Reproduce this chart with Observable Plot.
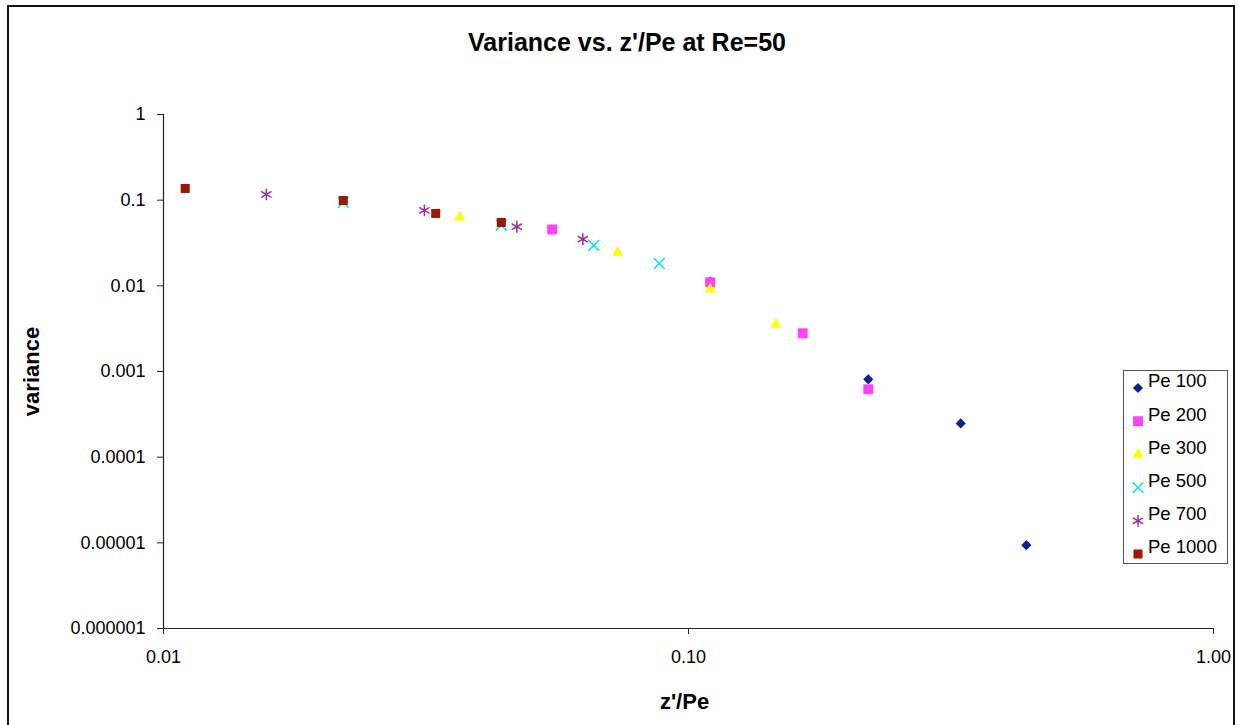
<!DOCTYPE html>
<html><head><meta charset="utf-8">
<script src="https://cdn.jsdelivr.net/npm/d3@7"></script>
<script src="https://cdn.jsdelivr.net/npm/@observablehq/plot@0.6"></script>
<style>
html,body{margin:0;padding:0;background:#fff;overflow:hidden;}
#wrap{position:relative;width:1238px;height:725px;font-family:"Liberation Sans",Arial,sans-serif;overflow:hidden;}
#frame{position:absolute;left:7px;top:5px;width:1228px;height:800px;border:2px solid #111;box-sizing:border-box;}
#title{position:absolute;left:8px;width:1238px;top:28px;text-align:center;font-weight:bold;font-size:25px;color:#000;}
#chart{position:absolute;left:0;top:0;}
#legend{position:absolute;left:1123px;top:370px;}
</style></head>
<body>
<div id="wrap">
  <div id="frame"></div>
  <div id="chart"></div>
  <div id="title">Variance vs. z'/Pe at Re=50</div>
  <div id="legend"></div>
</div>
<script>
// ---- data ----
const seriesNames = ["Pe 100", "Pe 200", "Pe 300", "Pe 500", "Pe 700", "Pe 1000"];
const pe100X = [0.11, 0.22, 0.33, 0.44];
const pe100Y = [0.0112, 0.00081, 0.000248, 0.0000094];
const pe200X = [0.055, 0.11, 0.165, 0.22];
const pe200Y = [0.0455, 0.011, 0.00279, 0.00062];
const pe300X = [0.0367, 0.0733, 0.11, 0.1467];
const pe300Y = [0.063, 0.0245, 0.0091, 0.00355];
const pe500X = [0.022, 0.044, 0.066, 0.088];
const pe500Y = [0.094, 0.051, 0.0296, 0.0182];
const pe700X = [0.0157, 0.0314, 0.0471, 0.0629];
const pe700Y = [0.117, 0.076, 0.049, 0.035];
const pe1000X = [0.011, 0.022, 0.033, 0.044];
const pe1000Y = [0.137, 0.099, 0.070, 0.055];

const yTicks = [1, 0.1, 0.01, 0.001, 0.0001, 0.00001, 0.000001];
const yTickLabels = ["1", "0.1", "0.01", "0.001", "0.0001", "0.00001", "0.000001"];
const xTicks = [0.01, 0.1, 1];
const xTickLabels = ["0.01", "0.10", "1.00"];

// ---- styles ----
const seriesStyle = [
  {symbol: "diamond2", fill: "#0f208c", r: 4.6},
  {symbol: "square", fill: "#ff40ff", r: 5.6},
  {symbol: "triangle", fill: "#ffff00", r: 4.2},
  {symbol: "times", stroke: "#00e8f0", r: 5},
  {symbol: "asterisk", stroke: "#993399", r: 5.6},
  {symbol: "square", fill: "#9c1800", r: 5.1}
];

const allX = [pe100X, pe200X, pe300X, pe500X, pe700X, pe1000X];
const allY = [pe100Y, pe200Y, pe300Y, pe500Y, pe700Y, pe1000Y];
const table = seriesNames.map((name, s) => allX[s].map((x, i) => ({series: name, x, y: allY[s][i]})));

const yLab = new Map(yTicks.map((t, i) => [t, yTickLabels[i]]));
const xLab = new Map(xTicks.map((t, i) => [t, xTickLabels[i]]));

const dotMarks = table.map((rows, s) => {
  const st = seriesStyle[s];
  const o = {x: "x", y: "y", symbol: st.symbol, r: st.r};
  if (st.fill) { o.fill = st.fill; o.stroke = "none"; }
  else { o.stroke = st.stroke; o.fill = "none"; o.strokeWidth = 1.5; }
  return Plot.dot(rows, o);
});

const chart = Plot.plot({
  width: 1238, height: 725,
  marginLeft: 163, marginRight: 25, marginTop: 114, marginBottom: 97,
  style: {fontFamily: "'Liberation Sans', Arial, sans-serif", background: "transparent", color: "#000"},
  x: {type: "log", domain: [0.01, 1]},
  y: {type: "log", domain: [0.000001, 1]},
  marks: [
    Plot.axisY({ticks: yTicks, tickFormat: d => yLab.get(d), tickSize: 6, tickPadding: 12, fontSize: 18,
      label: "variance", labelAnchor: "center", labelArrow: "none", labelOffset: 140, stroke: "#222"}),
    Plot.axisX({ticks: xTicks, tickFormat: d => xLab.get(d), tickSize: 6, tickPadding: 16, fontSize: 18,
      label: "z'/Pe", labelAnchor: "center", labelArrow: "none", labelOffset: 80, stroke: "#222"}),
    Plot.ruleX([0.01], {stroke: "#222", strokeWidth: 1.2}),
    Plot.ruleY([0.000001], {stroke: "#222", strokeWidth: 1.2}),
    ...dotMarks
  ]
});
document.getElementById("chart").appendChild(chart);

d3.select(chart).selectAll('[aria-label="y-axis label"], [aria-label="x-axis label"]')
  .attr("font-weight", "bold").attr("font-size", 22)
  .selectAll("text").attr("font-weight", "bold").attr("font-size", 22);
d3.select(chart).selectAll('[aria-label="x-axis label"] text').attr("dx", -4);

// ---- legend ----
const lg = d3.select("#legend").append("svg").attr("width", 106).attr("height", 196)
  .style("font-family", "'Liberation Sans', Arial, sans-serif");
lg.append("rect").attr("x", 0.5).attr("y", 0.5).attr("width", 104).attr("height", 193)
  .attr("fill", "#fff").attr("stroke", "#555").attr("stroke-width", 1);
const symMap = {diamond2: d3.symbolDiamond2, square: d3.symbolSquare, triangle: d3.symbolTriangle,
  times: d3.symbolTimes, asterisk: d3.symbolAsterisk};
seriesNames.forEach((name, i) => {
  const st = seriesStyle[i];
  const cy = 11 + i * 33.2;
  const p = lg.append("path")
    .attr("d", d3.symbol(symMap[st.symbol], Math.PI * st.r * st.r)())
    .attr("transform", `translate(15,${cy + 7})`);
  if (st.fill) p.attr("fill", st.fill);
  else p.attr("fill", "none").attr("stroke", st.stroke).attr("stroke-width", 1.5);
  lg.append("text").attr("x", 25).attr("y", cy).attr("dy", "0.35em")
    .attr("font-size", 18.5).attr("fill", "#000").text(name);
});
</script>
</body></html>
